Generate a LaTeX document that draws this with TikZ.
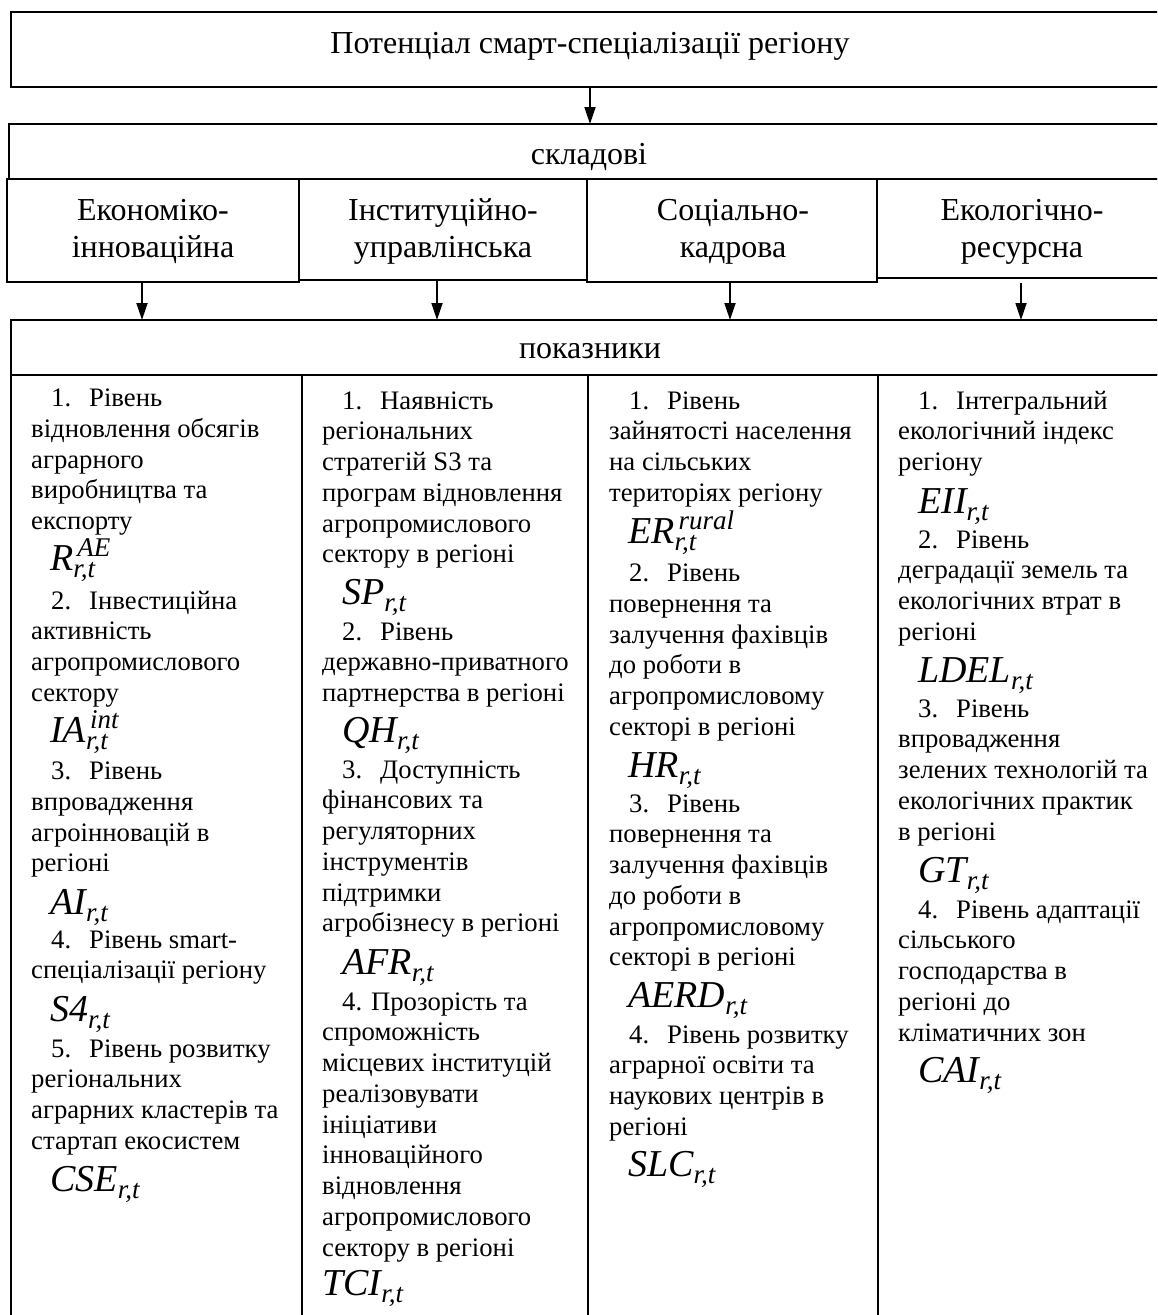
\documentclass[tikz,border=0pt]{standalone}
\usepackage{fontspec}
\setmainfont{Liberation Serif}
\usetikzlibrary{arrows.meta}
\newcounter{ln}
\newcommand\mline[3]{\stepcounter{ln}\node[txt] (l\arabic{ln}) at (#1,-#2) {#3};}
\newcommand\nm[1]{\hspace*{20pt}\makebox[38pt][l]{#1}}
\newcommand\fm[3]{{\fontsize{38}{40}\selectfont\itshape #1{\fontsize{27}{27}\selectfont\rlap{\kern4pt\raisebox{14pt}{#3}}\raisebox{-7pt}{#2}}}}
\begin{document}
\begin{tikzpicture}[x=1pt,y=1pt,
  box/.style={draw, line width=1.5pt, inner sep=0pt, outer sep=0pt, anchor=north west},
  hd/.style={anchor=base, inner sep=0pt, font=\fontsize{32}{37}\selectfont},
  txt/.style={anchor=base west, inner sep=0pt, font=\fontsize{26.7}{30}\selectfont},
  arr/.style={line width=1.8pt, -{Triangle[length=17pt,width=11pt]}},
  colline/.style={line width=1.2pt}]
\useasboundingbox (0,0) rectangle (1157,-1315);
\clip (0,0) rectangle (1157,-1315);
% top box
\node[box, minimum width=1158pt, minimum height=75pt] (top) at (11,-12) {};
\node[hd] (toptxt) at (590,-53) {Потенціал смарт-спеціалізації регіону};
% components
\node[box, minimum width=1160pt, minimum height=55pt] (skl) at (9,-124) {};
\node[hd] (skltxt) at (589,-164) {складові};
\node[box, minimum width=292pt, minimum height=103pt] (c1) at (7,-179) {};
\node[box, minimum width=288pt, minimum height=101pt] (c2) at (299,-179) {};
\node[box, minimum width=290pt, minimum height=103pt] (c3) at (587,-179) {};
\node[box, minimum width=292pt, minimum height=99pt] (c4) at (877,-179) {};
\node[hd] (c1a) at (153,-220) {Економіко-};
\node[hd] (c1b) at (153,-257) {інноваційна};
\node[hd] (c2a) at (443,-220) {Інституційно-};
\node[hd] (c2b) at (443,-257) {управлінська};
\node[hd] (c3a) at (733,-220) {Соціально-};
\node[hd] (c3b) at (733,-257) {кадрова};
\node[hd] (c4a) at (1022,-220) {Екологічно-};
\node[hd] (c4b) at (1022,-257) {ресурсна};
% indicators
\node[box, minimum width=1158pt, minimum height=55pt] (pok) at (11,-320) {};
\node[hd] (poktxt) at (590,-358) {показники};
\node[box, line width=1.2pt, minimum width=1158pt, minimum height=980pt] (ind) at (11,-375) {};
\draw[colline] (302,-375) -- (302,-1360);
\draw[colline] (588,-375) -- (588,-1360);
\draw[colline] (878,-375) -- (878,-1360);
% arrows
\coordinate (a1) at (142,0);
\coordinate (a2) at (437,0);
\coordinate (a3) at (730,0);
\coordinate (a4) at (1021,0);
\draw[arr] (top.south) -- (top.south |- skl.north);
\draw[arr] (c1.south -| a1) -- (pok.north -| a1);
\draw[arr] (c2.south -| a2) -- (pok.north -| a2);
\draw[arr] (c3.south -| a3) -- (pok.north -| a3);
\draw[arr] ([yshift=-5pt]c4.south -| a4) -- (pok.north -| a4);
% column 1
\mline{31}{406.5}{\nm{1.}Рівень}
\mline{31}{437.3}{відновлення обсягів}
\mline{31}{468}{аграрного}
\mline{31}{498.8}{виробництва та}
\mline{31}{529.5}{експорту}
\mline{50}{570}{\fm{R}{r,t}{AE}}
\mline{31}{609}{\nm{2.}Інвестиційна}
\mline{31}{639.8}{активність}
\mline{31}{670.5}{агропромислового}
\mline{31}{701.3}{сектору}
\mline{50}{742}{\fm{IA}{r,t}{int}}
\mline{31}{779.5}{\nm{3.}Рівень}
\mline{31}{810.3}{впровадження}
\mline{31}{841}{агроінновацій в}
\mline{31}{871.8}{регіоні}
\mline{50}{914}{\fm{AI}{r,t}{}}
\mline{31}{948}{\nm{4.}Рівень smart-}
\mline{31}{978.8}{спеціалізації регіону}
\mline{50}{1021}{\fm{S4}{r,t}{}}
\mline{31}{1057}{\nm{5.}Рівень розвитку}
\mline{31}{1087.8}{регіональних}
\mline{31}{1118.5}{аграрних кластерів та}
\mline{31}{1149.3}{стартап екосистем}
\mline{50}{1191}{\fm{CSE}{r,t}{}}
% column 2
\mline{322}{409}{\nm{1.}Наявність}
\mline{322}{439.8}{регіональних}
\mline{322}{470.5}{стратегій S3 та}
\mline{322}{501.3}{програм відновлення}
\mline{322}{532}{агропромислового}
\mline{322}{562.8}{сектору в регіоні}
\mline{342}{604}{\fm{SP}{r,t}{}}
\mline{322}{640}{\nm{2.}Рівень}
\mline{322}{670.8}{державно-приватного}
\mline{322}{701.5}{партнерства в регіоні}
\mline{342}{742}{\fm{QH}{r,t}{}}
\mline{322}{778}{\nm{3.}Доступність}
\mline{322}{808.8}{фінансових та}
\mline{322}{839.5}{регуляторних}
\mline{322}{870.3}{інструментів}
\mline{322}{901}{підтримки}
\mline{322}{931.8}{агробізнесу в регіоні}
\mline{342}{974}{\fm{AFR}{r,t}{}}
\mline{322}{1010}{\hspace*{20pt}4. Прозорість та}
\mline{322}{1040.8}{спроможність}
\mline{322}{1071.5}{місцевих інституцій}
\mline{322}{1102.3}{реалізовувати}
\mline{322}{1133}{ініціативи}
\mline{322}{1163.8}{інноваційного}
\mline{322}{1194.5}{відновлення}
\mline{322}{1225.3}{агропромислового}
\mline{322}{1256}{сектору в регіоні}
\mline{322}{1295}{\fm{TCI}{r,t}{}}
% column 3
\mline{609}{409}{\nm{1.}Рівень}
\mline{609}{439.8}{зайнятості населення}
\mline{609}{470.5}{на сільських}
\mline{609}{501.3}{територіях регіону}
\mline{628}{543}{\fm{ER}{r,t}{rural}}
\mline{609}{581.5}{\nm{2.}Рівень}
\mline{609}{612.3}{повернення та}
\mline{609}{643}{залучення фахівців}
\mline{609}{673.8}{до роботи в}
\mline{609}{704.5}{агропромисловому}
\mline{609}{735.3}{секторі в регіоні}
\mline{628}{777}{\fm{HR}{r,t}{}}
\mline{609}{812}{\nm{3.}Рівень}
\mline{609}{842.8}{повернення та}
\mline{609}{873.5}{залучення фахівців}
\mline{609}{904.3}{до роботи в}
\mline{609}{935}{агропромисловому}
\mline{609}{965.8}{секторі в регіоні}
\mline{628}{1007}{\fm{AERD}{r,t}{}}
\mline{609}{1043}{\nm{4.}Рівень розвитку}
\mline{609}{1073.8}{аграрної освіти та}
\mline{609}{1104.5}{наукових центрів в}
\mline{609}{1135.3}{регіоні}
\mline{628}{1176}{\fm{SLC}{r,t}{}}
% column 4
\mline{898}{409}{\nm{1.}Інтегральний}
\mline{898}{439.8}{екологічний індекс}
\mline{898}{470.5}{регіону}
\mline{918}{513}{\fm{EII}{r,t}{}}
\mline{898}{548}{\nm{2.}Рівень}
\mline{898}{578.8}{деградації земель та}
\mline{898}{609.5}{екологічних втрат в}
\mline{898}{640.3}{регіоні}
\mline{918}{682}{\fm{LDEL}{r,t}{}}
\mline{898}{717}{\nm{3.}Рівень}
\mline{898}{747.8}{впровадження}
\mline{898}{778.5}{зелених технологій та}
\mline{898}{809.3}{екологічних практик}
\mline{898}{840}{в регіоні}
\mline{918}{882}{\fm{GT}{r,t}{}}
\mline{898}{918}{\nm{4.}Рівень адаптації}
\mline{898}{948.8}{сільського}
\mline{898}{979.5}{господарства в}
\mline{898}{1010.3}{регіоні до}
\mline{898}{1041}{кліматичних зон}
\mline{918}{1082}{\fm{CAI}{r,t}{}}
\end{tikzpicture}
\end{document}
